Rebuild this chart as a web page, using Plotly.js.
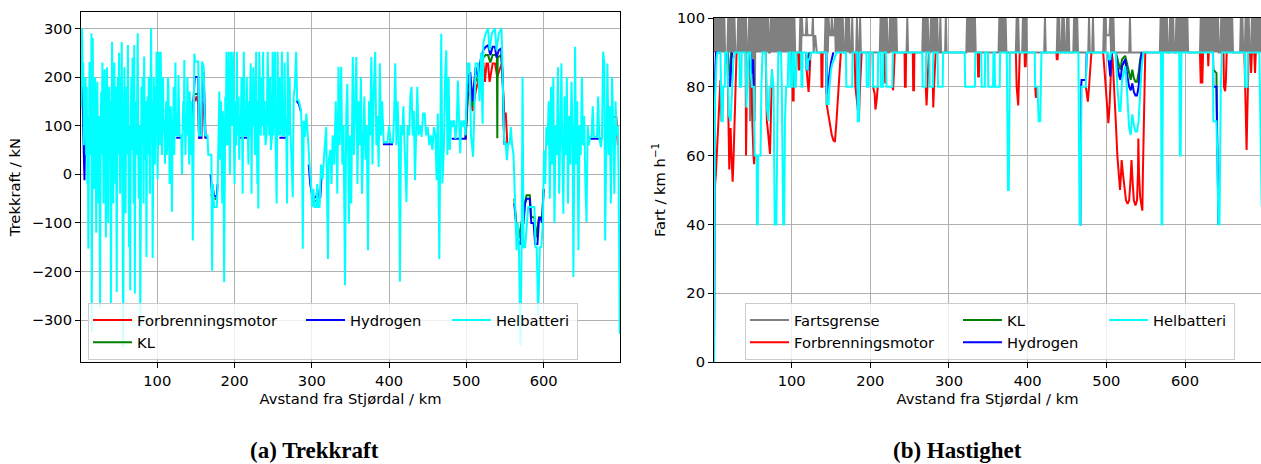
<!DOCTYPE html>
<html><head><meta charset="utf-8">
<script src="https://cdn.plot.ly/plotly-3.0.1.min.js"></script>
<style>html,body{margin:0;padding:0;background:#fff;}#chart{width:1261px;height:464px;}</style>
</head><body><div id="chart"></div>
<script>
// ---------- axis ticks ----------
const distTicks = [100, 200, 300, 400, 500, 600];
const kraftTicks = [-300, -200, -100, 0, 100, 200, 300];
const fartTicks = [0, 20, 40, 60, 80, 100];

// ---------- (a) Trekkraft [km, kN] ----------
const trekkHelbatteri = [[1.3,140],[2,260],[2.8,300],[3.5,180],[4.2,230],[5,60],[5.8,150],[6.5,80],[7.2,200],[8,40],[8.8,180],[9.5,-20],[10.2,120],[10.8,-153],[11.5,150],[12.3,231],[13,60],[13.6,200],[14.2,40],[14.8,290],[15.2,-324],[15.9,100],[16.5,280],[17.2,60],[18,-30],[18.7,150],[19.5,200],[20.2,60],[21,-120],[21.7,120],[22.5,190],[23.2,30],[24,-60],[24.8,120],[25.5,-50],[26,-273],[26.8,100],[27.5,170],[28.2,40],[29,230],[29.8,80],[30.5,-60],[31.2,140],[32,216],[32.8,60],[33.5,-130],[34.2,80],[35,220],[35.8,40],[36.5,-100],[37.2,120],[38,180],[38.8,30],[39.4,150],[40,-265],[40.8,120],[41.5,272],[42.2,100],[43,-60],[43.7,160],[44.5,230],[45.2,60],[46,-20],[46.7,180],[47.5,-242],[48.2,100],[49,200],[49.7,40],[50.5,250],[51.2,80],[52,-40],[52.7,200],[53.4,120],[54,272],[54.7,40],[55.3,150],[56,-355],[56.7,90],[57.5,220],[58.2,60],[59,-80],[59.7,140],[60.5,180],[61.2,40],[62,266],[62.7,60],[63.5,-150],[64.2,100],[65,-238],[65.7,130],[66.5,200],[67.2,50],[68,240],[68.7,120],[69.5,-60],[70.2,266],[71,-245],[71.7,100],[72.5,150],[73.2,40],[74,200],[74.7,290],[75.4,60],[76,-50],[76.8,100],[77.4,20],[78,-314],[78.7,120],[79.5,180],[80.2,60],[81,200],[81.7,100],[82.3,-60],[83,242],[83.7,100],[84.5,30],[85.2,150],[86,-170],[86.7,80],[87.5,160],[88.2,40],[89,200],[89.7,100],[90.5,-40],[91.2,150],[92,300],[92.8,80],[93.4,150],[94,-172],[94.7,80],[95.5,200],[96.2,100],[97,20],[97.8,180],[98.5,120],[99,252],
[100.5,-10],[101.3,120],[102,252],[102.8,130],[103.5,60],[104.5,252],[105.3,120],[106,40],[106.8,150],[107.5,200],[108.2,90],[109,110],[110,22],[110.8,100],[111.5,150],[112.3,40],[113,60],[113.8,200],[114.5,180],[115.3,70],[116,-20],[116.8,100],[117.5,140],[118.3,60],[119,-77],[119.8,90],[120.5,110],[121.3,180],[122,40],[122.8,120],[123.5,230],[124.3,100],[125,80],[126.5,80],[127.5,204],[128.3,120],[129,80],[131,80],[132,0],[132.8,80],[133.5,150],[134.3,90],[135,235],[135.8,100],[136.5,40],[137.3,120],[138,80],[139,200],[139.8,110],[140.5,80],[141.3,20],[142,170],[142.8,80],[143.5,40],[144.3,150],[145,100],[146,-136],[147,150],[148,248],[149,232],[153,232],[154,80],[157,80],[158,232],[160,221],[161,150],[162,80],[165,80],[166,40],[170,40],[171,-198],[172,-20],[173.5,-67],[177,-67],[178,-30],[179.5,100],[180.3,170],[181,30],[181.8,120],[182.5,150],[183.3,60],[184,-60],[184.8,130],[185.5,100],[186.5,-222],[187.3,90],[188,160],[188.8,60],[189.5,252],[190.3,120],[191,60],[191.8,180],[192.5,252],[193.3,80],[194,0],[194.8,120],[195.5,252],[196.3,150],[197,100],[197.8,200],[198.5,252],[199.3,60],[200,-20],[200.8,100],[201.5,150],[202.3,60],[203,252],[203.8,120],[204.5,80],[205.3,160],[206,30],[206.8,120],[207.5,80],[208.3,120],[209,200],[209.8,90],[210.5,-40],[211.3,150],[212,252],[212.8,120],[213.5,80],[215,80],[215.8,200],[216.5,130],[217.3,60],[218,20],[218.8,150],[219.5,80],[220.3,180],[221,228],[221.6,100],[222,-40],[222.8,160],[223.5,100],[224.3,220],[225,160],[225.8,90],[226.5,40],[227.3,180],[228,252],[228.8,100],[229.5,-20],[230.1,150],[230.7,-70],[231.4,120],[232,252],
[234,80],[235,200],[236,100],[237,252],[238,80],[239,150],[240,60],[241.5,80],[242.3,180],[243,252],[244,120],[245,80],[246,200],[247,50],[248.5,80],[249.3,252],[250,80],[251.5,160],[252.3,252],[253,80],[254.5,-60],[255.8,252],[257,80],[258,200],[259,80],[260.5,150],[261.3,252],[262,80],[264,80],[264.8,230],[265.5,120],[267,80],[268,-60],[268.8,252],[270.5,80],[271.3,200],[272,100],[273.5,40],[275.3,-47],[276.5,160],[278,180],[279.7,252],[281,152],[283,152],[284.5,140],[286,131],[287.3,80],[288.3,-153],[289.5,110],[291,77],[293,125],[295,63],[297,22],[299,-20],[300.5,-67],[302,-30],[303.5,-67],[306,-67],[307,-20],[308,-67],[310,-67],[312,20],[314,-10],[316,40],[318.6,97],[320.8,-174],[322,30],[324,50],[325.5,-20],[327,80],[329,20],[331,150],[333,-40],[334.5,221],[336,60],[338,221],[339.5,20],[341,100],[343,-228],[344.5,120],[346,186],[348,-101],[349.5,80],[351,-60],[353,241],[354.5,40],[356,120],[357.6,241],[359,-20],[360.5,150],[362,60],[363.5,200],[365,-40],[366.5,80],[368,160],[369.5,30],[371,100],[372.7,-156],[374,150],[375.5,80],[377,241],[378.5,20],[380,160],[382,252],[383.5,60],[385,120],[386.5,15],[388,228],[389.5,80],[391,150],[393,66],[396.5,66],[398,66],[400,100],[402,66],[405,66],[406.5,120],[408,228],[409.5,60],[411,150],[412.5,80],[414,-221],[415.5,100],[417,80],[418.5,140],[420,60],[422.5,-57],[424,100],[426,80],[427.5,160],[429,180],[430.5,80],[432,130],[433.5,-12],[435,80],[436.5,180],[438,80],[440,100],[442,77],[444,125],[446,125],[448,80],[450,97],[452,60],[454,80],[456,50],[458,97],[460,80],[461.5,-12],[463,125],[465,-174],[467.5,289],[469,-19],[471,60],[472.5,200],[474,255],[475.5,40],[477,200],[478.5,50],[480.5,111],[482,97],[484,111],[486,73],[487.5,100],[489,193],[490.5,111],[492,43],[493.5,111],[495,97],[497,111],[499,80],[500.5,180],[502,228],[504,228],[506,80],[508.7,36],[510,120],[512,228],[515,228],[517,150],[519,250],[521,104],[522,270],[525,290],[528,300],[530,255],[533,290],[537,300],[539,255],[542,290],[545.5,300],[547,200],[549,63],[551,63],[552.5,29],[554,63],[556,63],[557.5,97],[559,63],[561,40],[563,-74],[565,-156],[566.5,-100],[568,-150],[570,-352],[571.5,-150],[572.7,200],[574,-150],[576,-150],[578,-100],[580,-67],[582,-67],[584,-67],[586,-67],[588,-67],[589.5,-150],[591,-150],[593,-290],[595,-150],[597,-150],[599,-100],[600.5,49],[602,-20],[603.5,97],[605,60],[606.5,150],[608,-50],[609.5,180],[611,20],[612.5,200],[614,-100],[615.5,100],[617,40],[618.5,220],[620,-40],[621.5,80],[623,228],[624,60],[625.5,-81],[627,160],[628.5,40],[630,200],[631.5,-60],[633,120],[634.5,20],[636,190],[637.5,80],[638.5,-211],[640.7,262],[642,20],[643.5,150],[645,-156],[646.5,100],[648,40],[649.5,200],[651,60],[652.5,120],[654,-20],[655.5,-98],[657,100],[658.5,60],[660,77],[662,77],[663.5,140],[665,77],[667,77],[669,77],[670.5,160],[672,77],[674,56],[675.5,77],[677,252],[678.5,228],[679.6,-136],[681,100],[682.5,228],[684,40],[685.5,140],[687,-60],[688.5,200],[690,100],[691.5,-40],[693,150],[694.5,80],[696,100],[697,0],[698.5,-328]];

const trekkHydrogen = [[1.3,150],[2.5,220],[4.5,70],[5.8,-12],[6.5,80],null,
[124.5,75],[133,75],null,
[145,100],[147,150],[148.5,200],[153,200],[154,75],[157,75],[158,200],[160,210],[161.5,150],[162.5,75],[165,75],null,
[169,0],[170,-33],[171,-45],[172.5,-33],[173.5,-45],[177,-45],[178,-20],null,
[206.5,75],[216.5,75],null,
[258,75],[267,75],null,
[280,152],[283,145],[284.5,138],[286,128],null,
[296,20],[298,-20],[300,-40],[301,-47],[306,-47],[307,-30],[308,-47],[311,-47],[313,10],null,
[392,62],[405,62],null,
[481,73],[499,73],[502,200],[505,210],[508,150],[512,220],[515,200],[519,240],[522,255],[525,262],[528,265],[531,245],[534,262],[537,262],[539,240],[542,255],[545,259],[547,200],[549,63],[552,63],null,
[562,-60],[564,-90],[566,-130],[568,-143],[570,-143],[572,-100],[574,-100],[576,-60],[578,-50],[582,-50],[584,-100],[587,-100],[589,-143],[592,-143],[594,-90],[596,-90],[598,-100],[600,-30],null,
[659,73],[675,73]];

const trekkKL = [[148.5,165],[153,165],null,
[170,-40],[171,-50],[173.5,-50],[177,-50],null,
[300,-45],[301,-55],[306,-55],[308,-55],[311,-55],null,
[499,74],[502,180],[505,190],[508,140],[512,200],[515,190],[519,225],[522,240],[525,245],[528,245],[531,230],[534,245],[537,245],[539.5,245],[540,74],[540.5,240],[545,245],[547,190],[549,63],null,
[562,-50],[564,-85],[566,-130],[568,-130],[572,-90],[576,-55],[578,-43],[582,-43],[584,-88],[588,-88],[590,-130],[594,-88],[598,-88],[600,-30]];

const trekkForbrenning = [[148.5,150],[151,160],[153,145],[154,75],[157,75],[158,150],[160,140],[162,75],null,
[499,74],[502,160],[505,175],[508,130],[512,170],[515,190],[518,200],[520,228],[522,228],[524,190],[526,228],[528,228],[530,190],[532,215],[534,228],[537,228],[540,200],[543,215],[546,228],[549,125],[551,125],[553,63],null,
[690,118],[694,118],[696,60]];

// ---------- (b) Hastighet [km, km/h] ----------
const fartsgrense = [[0.4,100],[1.5,90],[2.5,100],[3.5,90],[4.5,100],[5.5,90],[6.5,100],[7.5,90],[8.5,100],[9.5,90],[10.5,100],[11.5,90],[12.5,100],[13.5,90],[14.5,100],[15.3,90],[18.3,90],[19.3,100],[20.3,90],[21.3,100],[22.3,90],[23.3,100],[24.3,90],[25.3,100],[26.3,90],[27.3,100],[28.5,90],[31,90],[32,100],[33,90],[34,100],[35,90],[36,100],[37,90],[38,100],[39,90],[40,100],[41,90],[42,100],[43,90],[45,90],[46,100],[47,70],[48,100],[49,90],[50,100],[51,70],[52,100],[53,70],[54,100],[55,90],[56,100],[57,90],[58,100],[59,90],[60,100],[61,90],[62,100],[63,90],[64,100],[65,90],[66,100],[67,90],[68,100],[69,90],[70,100],[71,90],[72.5,90],[73.5,100],[74.5,90],[75.5,100],[76.5,90],[77.5,100],[78.5,90],[79.5,100],[80.5,90],[81.5,100],[82.5,90],[83.5,100],[84.5,90],[85.5,100],[86.5,90],[87.5,100],[88.5,90],[89.5,100],[90.5,90],[91.5,100],[92.5,90],[93.5,100],[94.5,90],[95.5,100],[96.5,90],[97.5,100],[98.5,90],[99.5,100],[100.5,90],[101.5,100],[102.5,90],[103.5,100],[104.5,90],
[110,90],[111,100],[112,90],[113,100],[114,95],[118,95],[119,100],[120,95],[126,95],[127,100],[128,90],[130,95],[132,90],
[142,90],[143,100],[144,90],[145,100],[146,90],[147,100],[148,95],[150,95],[151,100],[152,95],[154,95],[155,100],[156,90],[157,100],[158,90],[159,100],[160,90],[161,100],[162,90],[163,100],[164,90],[165,100],[166,90],[168,90],[169,100],[170,90],[171,100],[172,90],[173,100],[174,90],[176,90],[177,100],[178,90],
[182,90],[183,100],[184,90],[186,90],[187,100],[188,90],
[212,90],[213,100],[214,90],[215,100],[216,90],[217,100],[218,90],[219,100],[220,90],[221,100],[222,90],[224,90],[225,100],[226,90],[227,100],[228,90],[229,100],[230,90],[231,100],[232,90],[233,100],[234,90],
[246,90],[247,100],[248,90],
[266,90],[267,100],[268,90],[269,100],[270,90],[271,100],[272,90],[273,100],[274,90],[276,90],[277,100],[278,90],[279,100],[280,90],[281,100],[282,90],[283,100],[284,90],[285,100],[286,90],[288,90],[289,100],[290,90],[295,90],[296,100],[297,90],
[322,90],[323,100],[324,90],[325,100],[326,90],[327,100],[328,90],[329,100],[330,90],[331,100],[332,90],[333,100],[334,90],
[363,90],[364,100],[365,90],[366,100],[367,90],[368,100],[369,90],[370,100],[371,90],[372,100],[373,90],
[385,90],[386,100],[387,90],[388,100],[389,90],[393,90],[394,100],[395,90],[396,100],[397,90],[398,100],[399,90],
[421,90],[422,100],[423,90],
[437,90],[438,100],[439,90],[440,100],[441,90],[443,90],[444,100],[445,90],[446,100],[447,90],[449,90],[450,100],[451,90],[452,100],[453,90],[458,90],[459,100],[460,90],[461,100],[462,90],[463,100],[464,90],
[477,90],[478,100],[479,90],[482,90],[483,100],[484,90],
[496,90],[497,100],[498,90],[499,100],[500,95],[504,95],[505,100],[506,90],[507,100],[508,90],[509,100],[510,90],
[529,90],[530,100],[531,90],
[568,90],[569,100],[570,90],[571,100],[572,90],[573,100],[574,90],[575,100],[576,90],[577,100],[578,90],[580,90],[581,100],[582,90],[583,100],[584,90],[585,100],[586,90],[588,90],[589,100],[590,90],[591,100],[592,90],[593,100],[594,90],[595,100],[596,90],[597,100],[598,90],[599,100],[600,90],[601,100],[602,90],[603,100],[604,90],
[619,90],[620,100],[621,90],[622,100],[623,90],[624,100],[625,90],[626,100],[627,90],[628,100],[629,90],[630,100],[631,90],[632,100],[633,90],[634,100],[635,90],[636,100],[637,90],[638,100],[639,90],[640,100],[641,90],[642,100],[643,90],[645,90],[646,100],[647,90],[648,100],[649,90],[650,100],[651,90],[652,100],[653,90],[654,100],[655,90],[656,100],[657,90],[658,100],[659,90],[660,100],[661,90],[662,90],
[670,90],[671,100],[672,90],[673,100],[674,90],[676,90],[677,100],[678,90],[679,100],[680,90],[681,100],[682,90],[684,90],[685,100],[686,90],[687,100],[688,90],[689,100],[690,90],[691,100],[692,90],[693,100],[694,90],[695,100],[696,90],[697,100]];

const fartHelbatteri = [[1.3,0],[1.8,60],[2.5,76],[4.5,88],[5.5,90],[9.5,90],[10,76],[11,70],[12.5,70],[13,80],[15,80],[15.5,90],[18.3,90],[19,80],[20,72],[22.5,70],[24,80],[26,88],[28,90],[33.5,90],[34,80],[36,80],[36.5,90],[41.5,90],[42.5,74],[43.5,80],[45,90],[47.5,90],[48,84],[49.5,80],[52,80],[53,60],[55.5,60],[56,40],[57,40],[57.5,60],[60.5,60],[61.5,80],[63,90],[67,90],[67.5,80],[68.5,74],[70.5,70],[72,80],[74,80],[75,85],[77,80],[78.5,40],[80.5,40],[81.5,70],[83,90],[86.5,90],[87.5,80],[89.3,40],[90.5,40],[91.5,70],[93,80],[95,80],[96,90],[98,90],[98.5,80],[100.5,80],[101,90],[103,90],[103.5,80],[105.5,80],[106,90],[112,90],[112.5,80],[113.5,80],[114,90],[118.5,90],[119,85],[120.5,85],[121,88],[123,88],[124,90],[144,90],[144.5,75],[147,75],[148,80],[150,85],[152,87],[154,88],[157,90],[169,90],[169.5,80],[177,80],[177.5,90],[183.5,90],[184,70],[185.5,70],[186.5,90],[195,90],[195.5,80],[198,80],[198.5,90],[203,90],[203.5,80],[209.5,80],[210,90],[213,90],[213.5,80],[216,80],[216.5,90],[220,90],[220.5,80],[228,80],[228.5,90],[266,90],[266.5,80],[270.5,80],[271,90],[275,90],[275.5,80],[279.5,80],[280,90],[285.5,90],[286,80],[292,80],[292.5,90],[320,90],[320.5,80],[333,80],[333.5,90],[341,90],[341.5,80],[345.5,80],[346,90],[349.5,90],[350,80],[356,80],[356.5,90],[358,90],[358.5,80],[364.5,80],[365,90],[373.5,90],[375,50],[376,50],[377.5,90],[409,90],[409.5,80],[412.5,80],[414,70],[416,70],[417.5,90],[464.5,90],[466,40],[467,40],[468.5,80],[474,80],[475,90],[502,90],[503,88],[505,88],[506,90],[512,90],[514,80],[516.5,73],[518,73],[520,82],[524,86],[526,80],[529,68],[531,66],[533,72],[535,69],[537,67],[539,67],[541,70],[543,78],[545,86],[547,90],[569.5,90],[570.2,40],[571,40],[572,90],[592.7,90],[593.5,60],[594.5,60],[595.5,90],[635.5,90],[636,70],[640,70],[641,60],[642.5,40],[643.8,40],[645.5,80],[647,90],[676,90],[676.5,80],[679.5,80],[680,90],[694.5,90],[695.5,75],[696.5,55],[697.5,45]];

const fartHydrogen = [[1.3,0],[1.6,50],[2.2,70],[3,85],[3.8,90],[9.5,90],null,
[18.3,90],[19,85],[20,82],[21.5,80],[22.5,82],[23.5,88],[24.5,90],null,
[47.5,90],[48,85],[50,84],[51,88],[52,80],null,
[118.5,90],[119,85],[121,85],[122,88],[123,90],null,
[144,90],[144.5,78],[146,80],[148,84],[150,87],[152,89],[153,90],null,
[183.5,90],[184,75],[185.5,75],[186.5,90],null,
[466,40],[467,40],[468,80],[468.5,82],[474,82],[475,90],null,
[502,90],[503.5,86],[505,83],[506,88],[507,90],null,
[512,90],[514,86],[516.5,83],[518,82],[520,86],[524,88],[526,84],[529,80],[531,79],[533,81],[535,78.5],[537,77.5],[539,77.5],[541,80],[543,86],[545,90],null,
[635.5,90],[636,80],[640,80],[641,60],[642.5,40]];

const fartKL = [[18.3,90],[19,84],[20,83],[21,84],[22,88],[23,90],null,
[118.5,90],[119,88],[121.5,88],[122.5,90],null,
[512,90],[514,88],[516.5,86],[518,85],[520,88],[524,89],[526,87],[529,84],[531,82],[533,85],[535,82.5],[537,81.5],[539,81.5],[541,84],[543,88],[545,90],null,
[635.5,90],[636,85],[640,84],[641,60]];

const fartForbrenning = [[1.3,0],[2,50],[3.5,54],[5,62],[6.5,70],[8,78],[9.5,82],[10,76],[11,70],null,
[18.3,90],[19,80],[20,62],[20.7,56],[21.5,64],[22.4,68],[23.5,60],[25,52.4],[26,58],[27,68],[28,78],[29,85],[30,90],null,
[41.5,90],[42,60],[42.8,74],null,
[47.5,90],[48.5,80],[50,70],[51.5,60],[52.3,57.5],[53,60],null,
[67,90],[67.5,80],[68.5,70],[69.5,68],[71,64],[72.5,60.5],[73.5,70],[74.5,80],[75,85],null,
[101,90],[101.5,76],[102.5,76],[103,90],null,
[108,90],[109,85],[110,85],[110.5,90],null,
[119,85],[120.5,80],[121.5,78.5],[122.5,82],[124,90],null,
[137.5,90],[138,80],[139,80],[139.5,90],null,
[144,90],[144.5,75],[146.6,72],[149,68],[151,66],[153,64.5],[155,64],[157,70],[159,78],[161,86],[162.5,90],null,
[180,90],[181,80],[183,76],[184,72.8],[185.5,70],[186.5,78],[188,85],[189,90],null,
[203,90],[203.5,80],[205.5,78],[206.5,73.4],[208,76],[209.5,80],null,
[218,90],[219,81],[220,90],null,
[228,80],[229,79],[230,84],[231,90],null,
[243.5,90],[244,80],[245,80],[245.5,90],null,
[254,90],[254.5,79],[255.5,79],[256,90],null,
[270.5,80],[271.5,74.6],[272.5,80],[273.5,86],[274.5,90],null,
[279.5,80],[280,74],[281,80],[282,86],[283,90],null,
[336.5,90],[337,83],[338,83],[338.5,90],null,
[385,90],[386,80],[388,74.6],[389,80],[390,90],null,
[396,90],[396.5,86],[397.5,86],[398,90],null,
[409.5,80],[410.5,76.8],[411.5,80],null,
[436.5,90],[437,88],[438,88],[438.5,90],null,
[474,80],[475,78],[476.5,75.7],[478,80],[479.5,86],[481,90],null,
[496,90],[498,84],[500,76],[502.6,69.4],[504,74],[505.5,84],[506.8,89.7],[508,88],[510,80],[512,70],[514,60],[516,52],[517.4,50],[518.5,54],[519.5,58.7],[521,55],[523,50],[525,47],[527,46],[529,47],[530.5,52],[532,58.7],[533.5,52],[535,47],[537,45.5],[539,47],[540.2,55],[540.7,65],[541.5,55],[543,48],[545,45],[545.8,44],[546.5,55],[547.5,70],[548.5,82],[549.5,90],null,
[619,90],[620,81],[621,90],[622,81],[623,90],null,
[629,90],[629.6,86],[630.2,90],null,
[649,90],[649.5,80],[651,78.7],[652,82],[653,90],null,
[675.5,90],[676.5,80],[677.5,70],[678.3,61.6],[679,70],[680,80],[681,90],null,
[683,90],[684,84],[685,90],[688,90],[689,84],[690,90]];

// ---------- helpers ----------
function xs(p){ return p.map(function(d){ return d ? d[0] : null; }); }
function ys(p){ return p.map(function(d){ return d ? d[1] : null; }); }

const RED = '#ff0000', GREEN = '#008000', BLUE = '#0000ff', CYAN = '#00ffff', GREY = '#808080';
const LW = 2;
const FONT = 'DejaVu Sans';
const FS = 14.7;

function tr(pairs, name, color, xa, ya, leg, grp, lw){
  return {x: xs(pairs), y: ys(pairs), type:'scatter', mode:'lines', name:name,
    line:{color:color, width:LW}, xaxis:xa, yaxis:ya, legend:leg, legendgroup:grp,
    legendwidth: lw, connectgaps:false, hoverinfo:'skip'};
}

const data = [
  tr(trekkForbrenning, 'Forbrenningsmotor', RED, 'x', 'y', 'legend', 'a1', 159),
  tr(trekkKL, 'KL', GREEN, 'x', 'y', 'legend', 'a1', 159),
  tr(trekkHydrogen, 'Hydrogen', BLUE, 'x', 'y', 'legend', 'a2', 92),
  tr(trekkHelbatteri, 'Helbatteri', CYAN, 'x', 'y', 'legend', 'a3', 76),
  tr(fartsgrense, 'Fartsgrense', GREY, 'x2', 'y2', 'legend2', 'b1', 159),
  tr(fartForbrenning, 'Forbrenningsmotor', RED, 'x2', 'y2', 'legend2', 'b1', 159),
  tr(fartKL, 'KL', GREEN, 'x2', 'y2', 'legend2', 'b2', 92),
  tr(fartHydrogen, 'Hydrogen', BLUE, 'x2', 'y2', 'legend2', 'b2', 92),
  tr(fartHelbatteri, 'Helbatteri', CYAN, 'x2', 'y2', 'legend2', 'b3', 76)
];

function axisBase(extra){
  return Object.assign({
    showline:true, linecolor:'#000', linewidth:1, mirror:true,
    ticks:'outside', ticklen:5, tickwidth:1, tickcolor:'#000',
    showgrid:true, gridcolor:'#b0b0b0', gridwidth:1, zeroline:false,
    automargin:false, tickfont:{family:FONT, size:FS, color:'#000'}
  }, extra);
}

const W = 1261, H = 464;
const legendBase = {
  orientation:'h', traceorder:'grouped', xanchor:'left', yanchor:'top',
  bgcolor:'rgba(255,255,255,0.8)', bordercolor:'#cccccc', borderwidth:1,
  font:{family:FONT, size:FS, color:'#000'}, tracegroupgap:0, itemwidth:39
};

const layout = {
  width:W, height:H, margin:{l:0, r:0, t:0, b:0},
  paper_bgcolor:'#fff', plot_bgcolor:'#fff',
  font:{family:FONT, size:FS, color:'#000'},
  showlegend:true, hovermode:false,
  xaxis: axisBase({domain:[81/W, 620/W], anchor:'y', range:[1.3, 698.8], tickvals:distTicks,
    title:{text:'Avstand fra Stjørdal / km', font:{family:FONT, size:FS}, standoff:6}}),
  yaxis: axisBase({domain:[102/H, 451.7/H], anchor:'x', range:[-385.7, 333], tickvals:kraftTicks,
    title:{text:'Trekkraft / kN', font:{family:FONT, size:FS}, standoff:7}}),
  xaxis2: axisBase({domain:[714/W, 1], anchor:'y2', range:[1.3, 696.6], tickvals:distTicks,
    title:{text:'Avstand fra Stjørdal / km', font:{family:FONT, size:FS}, standoff:6}}),
  yaxis2: axisBase({domain:[102/H, 446/H], anchor:'x2', range:[0, 100], tickvals:fartTicks, mirror:false,
    title:{text:'Fart / km h<sup>−1</sup>', font:{family:FONT, size:FS}, standoff:7}}),
  legend: Object.assign({x:88/W, y:(H-303)/H}, legendBase),
  legend2: Object.assign({x:745/W, y:(H-303)/H}, legendBase),
  annotations:[
    {text:'<b>(a) Trekkraft</b>', xref:'paper', yref:'paper', x:314/W, y:(H-450)/H,
     xanchor:'center', yanchor:'middle', showarrow:false,
     font:{family:'Liberation Serif', size:23, color:'#000'}},
    {text:'<b>(b) Hastighet</b>', xref:'paper', yref:'paper', x:957.5/W, y:(H-450)/H,
     xanchor:'center', yanchor:'middle', showarrow:false,
     font:{family:'Liberation Serif', size:23, color:'#000'}}
  ]
};

Plotly.newPlot('chart', data, layout, {displayModeBar:false, staticPlot:true});
</script>
</body></html>
